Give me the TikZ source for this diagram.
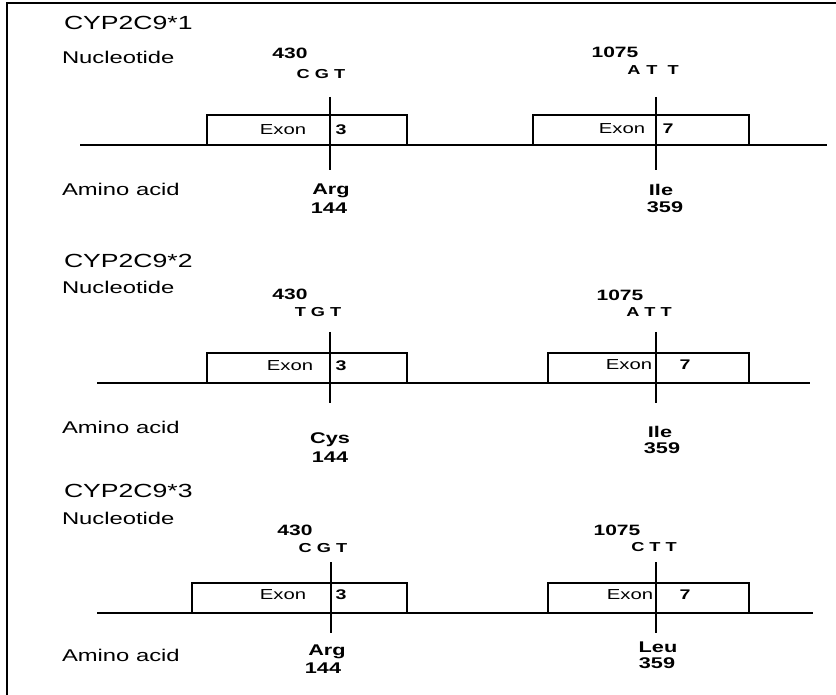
\documentclass[tikz,border=0pt]{standalone}
\usepackage{fontspec}
\setmainfont{Liberation Sans}[FakeStretch=1.4]
\begin{document}
\begin{tikzpicture}[x=1pt,y=-1pt,
  every node/.style={inner sep=0pt, outer sep=0pt},
  titletext/.style={font=\fontsize{19}{22}\selectfont, anchor=west},
  rowlabel/.style={font=\fontsize{17}{20}\selectfont, anchor=west},
  posnum/.style={font=\bfseries\fontsize{15}{18}\selectfont},
  codon/.style={font=\bfseries\fontsize{13}{16}\selectfont},
  exontext/.style={font=\fontsize{14.5}{17}\selectfont},
  exonnum/.style={font=\bfseries\fontsize{14}{17}\selectfont},
  aminotext/.style={font=\bfseries\fontsize{15.5}{18}\selectfont},
  exonbox/.style={draw, line width=1.7pt},
  strand/.style={draw, line width=2pt},
  marker/.style={draw, line width=2pt}]
\useasboundingbox (0,0) rectangle (836,695);
\fill[white] (0,0) rectangle (836,695);
% frame
\draw[line width=2.5pt] (7,695) -- (7,3) -- (836,3);

% ---------------- Section 1 ----------------
\node[titletext] (t1) at (64,23) {CYP2C9*1};
\node[rowlabel] (n1) at (62,57) {Nucleotide};
\node[posnum] (p1a) at (290,53) {430};
\node[codon] (c1a) at (321,74) {C G T};
\node[posnum] (p1b) at (615,52) {1075};
\node[codon] (c1b) at (653,70) {A\hspace{6pt}T\hspace{10pt}T};
\draw[exonbox] (207,145) |- (407,115) -- (407,145);
\draw[exonbox] (533,145) |- (749,115) -- (749,145);
\draw[strand] (80,145) -- (827,145);
\draw[marker] (330,97) -- (330,170);
\draw[marker] (656,97) -- (656,170);
\node[exontext] (e1a) at (283,130) {Exon};
\node[exonnum] (x1a) at (341,130) {3};
\node[exontext] (e1b) at (622,129) {Exon};
\node[exonnum] (x1b) at (668,129) {7};
\node[rowlabel] (a1) at (62,189) {Amino acid};
\node[aminotext] (r1a) at (331,191) {Arg};
\node[aminotext] (s1a) at (329,208) {144};
\node[aminotext] (r1b) at (661,190) {Ile};
\node[aminotext] (s1b) at (665,207) {359};

% ---------------- Section 2 ----------------
\node[titletext] (t2) at (64,261) {CYP2C9*2};
\node[rowlabel] (n2) at (62,287) {Nucleotide};
\node[posnum] (p2a) at (290,294) {430};
\node[codon] (c2a) at (318,312) {T G T};
\node[posnum] (p2b) at (620,295) {1075};
\node[codon] (c2b) at (649,312) {A T T};
\draw[exonbox] (207,383) |- (407,353) -- (407,383);
\draw[exonbox] (548,383) |- (749,353) -- (749,383);
\draw[strand] (97,383) -- (810,383);
\draw[marker] (330,332) -- (330,403);
\draw[marker] (656,332) -- (656,403);
\node[exontext] (e2a) at (290,366) {Exon};
\node[exonnum] (x2a) at (341,366) {3};
\node[exontext] (e2b) at (629,365) {Exon};
\node[exonnum] (x2b) at (685,365) {7};
\node[rowlabel] (a2) at (62,427) {Amino acid};
\node[aminotext] (r2a) at (330,440) {Cys};
\node[aminotext] (s2a) at (330,457) {144};
\node[aminotext] (r2b) at (660,432) {Ile};
\node[aminotext] (s2b) at (662,448) {359};

% ---------------- Section 3 ----------------
\node[titletext] (t3) at (64,491) {CYP2C9*3};
\node[rowlabel] (n3) at (62,518) {Nucleotide};
\node[posnum] (p3a) at (295,530) {430};
\node[codon] (c3a) at (323,548) {C G T};
\node[posnum] (p3b) at (617,530) {1075};
\node[codon] (c3b) at (654,547) {C T T};
\draw[exonbox] (192,613) |- (407,583) -- (407,613);
\draw[exonbox] (548,613) |- (749,583) -- (749,613);
\draw[strand] (97,613) -- (813,613);
\draw[marker] (331,562) -- (331,633);
\draw[marker] (656,562) -- (656,633);
\node[exontext] (e3a) at (283,595) {Exon};
\node[exonnum] (x3a) at (341,595) {3};
\node[exontext] (e3b) at (630,595) {Exon};
\node[exonnum] (x3b) at (685,595) {7};
\node[rowlabel] (a3) at (62,655) {Amino acid};
\node[aminotext] (r3a) at (327,652) {Arg};
\node[aminotext] (s3a) at (323,668) {144};
\node[aminotext] (r3b) at (658,647) {Leu};
\node[aminotext] (s3b) at (657,663) {359};
\end{tikzpicture}
\end{document}
